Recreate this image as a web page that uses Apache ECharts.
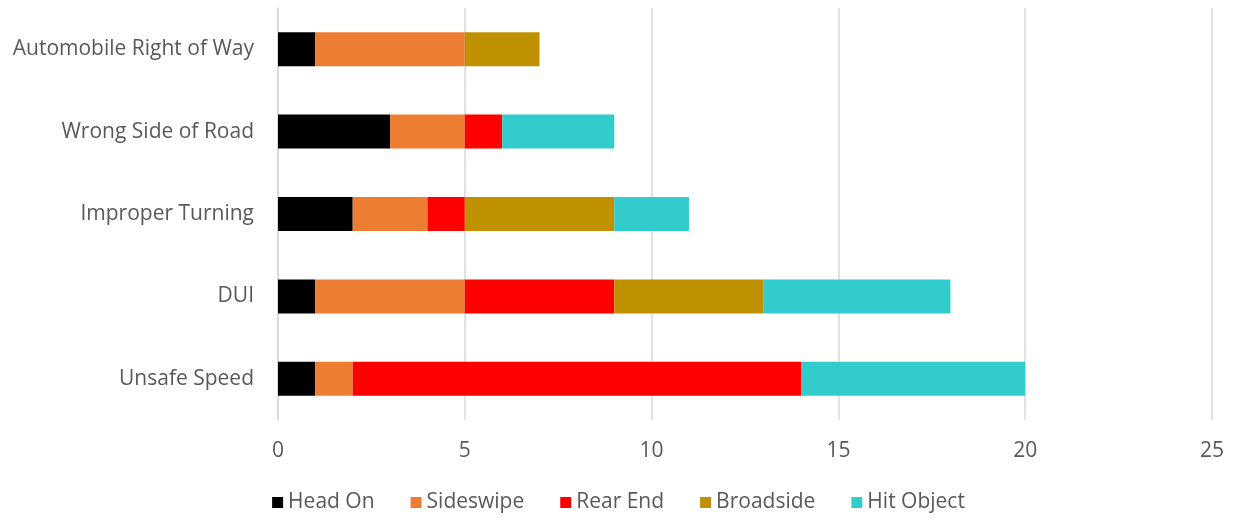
<!DOCTYPE html>
<html>
<head>
<meta charset="utf-8">
<script src="https://cdn.jsdelivr.net/npm/echarts@6/dist/echarts.min.js"></script>
<style>
  html, body { margin: 0; padding: 0; background: #fff; }
  #chart { width: 1237px; height: 518px; }
</style>
</head>
<body>
<div id="chart"></div>
<script>
// categories listed bottom to top
const categories = ['Unsafe Speed', 'DUI', 'Improper Turning', 'Wrong Side of Road', 'Automobile Right of Way'];
const headOn    = [1, 1, 2, 3, 1];
const sideswipe = [1, 4, 2, 2, 4];
const rearEnd   = [12, 4, 1, 1, 0];
const broadside = [0, 4, 4, 0, 2];
const hitObject = [6, 5, 2, 3, 0];
const xTicks = [0, 5, 10, 15, 20, 25];

const seriesDefs = [
  { name: 'Head On', data: headOn, color: '#000000' },
  { name: 'Sideswipe', data: sideswipe, color: '#ED7D31' },
  { name: 'Rear End', data: rearEnd, color: '#FF0000' },
  { name: 'Broadside', data: broadside, color: '#BF9000' },
  { name: 'Hit Object', data: hitObject, color: '#33CCCC' }
];

const font = 'Open Sans';
const chart = echarts.init(document.getElementById('chart'));

const option = {
  animation: false,
  textStyle: { fontFamily: font },
  grid: { left: 278, right: 25, top: 8, bottom: 98, containLabel: false },
  legend: {
    bottom: 0,
    left: 'center',
    itemWidth: 11,
    itemHeight: 11,
    itemGap: 36,
    icon: 'rect',
    textStyle: { fontSize: 21, color: '#595959', fontFamily: font },
    data: seriesDefs.map(s => s.name)
  },
  xAxis: {
    type: 'value',
    min: xTicks[0],
    max: xTicks[xTicks.length - 1],
    interval: 5,
    axisLine: { show: false },
    axisTick: { show: false },
    axisLabel: { fontSize: 21, color: '#595959', margin: 21 },
    splitLine: { show: true, lineStyle: { color: '#D9D9D9', width: 1.5 } }
  },
  yAxis: {
    type: 'category',
    data: categories,
    axisLine: { show: true, lineStyle: { color: '#D9D9D9', width: 1.5 } },
    axisTick: { show: false },
    axisLabel: { fontSize: 21, color: '#595959', margin: 24 }
  },
  series: seriesDefs.map(s => ({
    name: s.name,
    type: 'bar',
    stack: 'total',
    barWidth: 34,
    data: s.data,
    itemStyle: { color: s.color }
  }))
};

chart.setOption(option);
</script>
</body>
</html>
